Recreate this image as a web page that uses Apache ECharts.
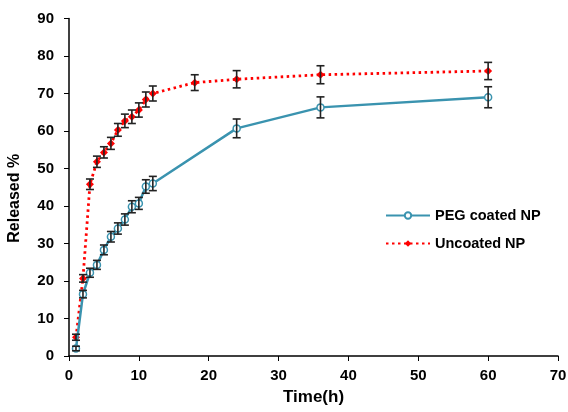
<!DOCTYPE html>
<html>
<head>
<meta charset="utf-8">
<script src="https://cdn.jsdelivr.net/npm/echarts@6/dist/echarts.min.js"></script>
<style>
  html, body { margin: 0; padding: 0; background: #fff; }
  #chart { width: 568px; height: 412px; }
</style>
</head>
<body>
<div id="chart"></div>
<script>
// release data
var pegHours = [1, 2, 3, 4, 5, 6, 7, 8, 9, 10, 11, 12, 24, 36, 60]
var pegRelease = [2.0, 16.5, 22.2, 24.3, 28.3, 31.8, 34.0, 36.4, 39.8, 40.7, 45.2, 46.0, 60.7, 66.3, 69.0]
var pegError = [0.6, 1.0, 1.2, 1.2, 1.3, 1.4, 1.5, 1.5, 1.6, 1.6, 1.8, 1.9, 2.5, 2.8, 2.8]

var uncHours = [1, 2, 3, 4, 5, 6, 7, 8, 9, 10, 11, 12, 18, 24, 36, 60]
var uncRelease = [5.0, 20.7, 45.8, 51.8, 54.3, 56.7, 60.3, 62.7, 63.8, 65.6, 68.4, 70.0, 72.9, 73.8, 75.0, 76.0]
var uncError = [0.8, 1.0, 1.4, 1.5, 1.5, 1.6, 1.7, 1.8, 1.8, 1.9, 2.0, 2.0, 2.1, 2.3, 2.4, 2.3]

var xTicks = { min: 0, max: 70, interval: 10 }
var yTicks = { min: 0, max: 90, interval: 10 }

var font = '"Liberation Sans", Arial, sans-serif'

function pairs(xs, ys) {
  return xs.map(function (x, i) { return [x, ys[i]] })
}

function errRows(xs, ys, es) {
  return xs.map(function (x, i) { return [x, ys[i] - es[i], ys[i] + es[i]] })
}

function renderErrorBar(params, api) {
  var lo = api.coord([api.value(0), api.value(1)])
  var hi = api.coord([api.value(0), api.value(2)])
  var cap = 4
  var style = { stroke: '#222', lineWidth: 1.6 }
  return {
    type: 'group',
    children: [
      { type: 'line', shape: { x1: lo[0], y1: lo[1], x2: hi[0], y2: hi[1] }, style: style },
      { type: 'line', shape: { x1: lo[0] - cap, y1: lo[1], x2: lo[0] + cap, y2: lo[1] }, style: style },
      { type: 'line', shape: { x1: hi[0] - cap, y1: hi[1], x2: hi[0] + cap, y2: hi[1] }, style: style }
    ]
  }
}

var chart = echarts.init(document.getElementById('chart'))

chart.setOption({
  animation: false,
  textStyle: { fontFamily: font },
  grid: { left: 69, right: 10, top: 18.5, bottom: 56, outerBoundsMode: 'none' },
  legend: {
    data: ['PEG coated NP', 'Uncoated NP'],
    orient: 'vertical',
    left: 385,
    top: 208,
    padding: 0,
    itemWidth: 44,
    itemHeight: 8,
    itemGap: 13,
    textStyle: { fontSize: 14.5, fontWeight: 'bold', color: '#000', fontFamily: font }
  },
  xAxis: {
    type: 'value',
    min: xTicks.min,
    max: xTicks.max,
    interval: xTicks.interval,
    name: 'Time(h)',
    nameLocation: 'middle',
    nameGap: 33,
    nameTextStyle: { fontSize: 17, fontWeight: 'bold', color: '#000' },
    axisLine: { show: true, lineStyle: { color: '#000', width: 1.5 } },
    axisTick: { show: true, length: 5, lineStyle: { color: '#000' } },
    axisLabel: { fontSize: 15, fontWeight: 'bold', color: '#000', margin: 12 },
    splitLine: { show: false }
  },
  yAxis: {
    type: 'value',
    min: yTicks.min,
    max: yTicks.max,
    interval: yTicks.interval,
    name: 'Released %',
    nameLocation: 'middle',
    nameGap: 46,
    nameTextStyle: { fontSize: 16, fontWeight: 'bold', color: '#000', padding: [0, 22, 0, 0] },
    axisLine: { show: true, lineStyle: { color: '#000', width: 1.5 } },
    axisTick: { show: true, length: 5, lineStyle: { color: '#000' } },
    axisLabel: { fontSize: 15, fontWeight: 'bold', color: '#000', margin: 15 },
    splitLine: { show: false }
  },
  series: [
    {
      name: 'Uncoated NP',
      type: 'line',
      data: pairs(uncHours, uncRelease),
      symbol: 'diamond',
      symbolSize: 8,
      itemStyle: { color: '#ff0000' },
      lineStyle: { color: '#ff0000', width: 2.8, type: [2.5, 3.5] },
      z: 2
    },
    {
      name: 'PEG coated NP',
      type: 'line',
      data: pairs(pegHours, pegRelease),
      symbol: 'circle',
      symbolSize: 7,
      itemStyle: { color: '#fff', borderColor: '#3a93af', borderWidth: 1.5 },
      lineStyle: { color: '#3a93af', width: 2.5 },
      z: 3
    },
    {
      type: 'custom',
      data: errRows(uncHours, uncRelease, uncError),
      renderItem: renderErrorBar,
      encode: { x: 0, y: [1, 2] },
      z: 4
    },
    {
      type: 'custom',
      data: errRows(pegHours, pegRelease, pegError),
      renderItem: renderErrorBar,
      encode: { x: 0, y: [1, 2] },
      z: 4
    }
  ]
})
</script>
</body>
</html>
